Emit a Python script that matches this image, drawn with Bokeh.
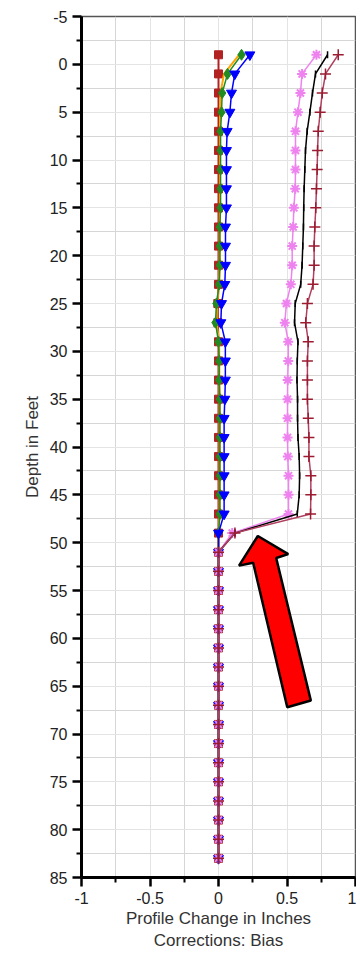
import math
from bokeh.plotting import figure
from bokeh.models import FixedTicker, Range1d
from bokeh.embed import file_html
from bokeh.resources import INLINE

# ---- data ----
depth = [-1, 1, 3, 5, 7, 9, 11, 13, 15, 17, 19, 21, 23, 25, 27, 29, 31, 33, 35, 37, 39,
         41, 43, 45, 47, 49, 51, 53, 55, 57, 59, 61, 63, 65, 67, 69, 71, 73, 75, 77, 79, 81, 83]

red_sq = [0.0, 0.0, 0.0, 0.0, 0.0, 0.0, 0.0, 0.0, 0.0, 0.0, 0.0, 0.0, 0.0, -0.005, -0.005, 0.0, 0.0,
          0.0, 0.0, 0.0, 0.0, 0.0, 0.0, 0.0, 0.0, 0.0, 0.0, 0.0, 0.0, 0.0, 0.0, 0.0, 0.0, 0.0,
          0.0, 0.0, 0.0, 0.0, 0.0, 0.0, 0.0, 0.0, 0.0]
orange = [0.15, 0.04, 0.015, 0.012, 0.01, 0.01, 0.01, 0.01, 0.01, 0.008, 0.008, 0.008, 0.004, -0.01,
          -0.014, 0.004, 0.006, 0.006, 0.008, 0.008, 0.008, 0.008, 0.008, 0.008, 0.008, 0.0, 0.0,
          0.0, 0.0, 0.0, 0.0, 0.0, 0.0, 0.0, 0.0, 0.0, 0.0, 0.0, 0.0, 0.0, 0.0, 0.0, 0.0]
green = [0.168, 0.066, 0.027, 0.022, 0.015, 0.015, 0.015, 0.015, 0.015, 0.01, 0.01, 0.01, 0.005,
         -0.015, -0.022, 0.0, 0.005, 0.005, 0.01, 0.01, 0.01, 0.01, 0.01, 0.01, 0.01, 0.0, 0.0,
         0.0, 0.0, 0.0, 0.0, 0.0, 0.0, 0.0, 0.0, 0.0, 0.0, 0.0, 0.0, 0.0, 0.0, 0.0, 0.0]
blue = [0.229, 0.119, 0.095, 0.083, 0.063, 0.058, 0.058, 0.058, 0.058, 0.051, 0.051, 0.051, 0.046,
        0.022, 0.017, 0.05, 0.05, 0.05, 0.046, 0.041, 0.041, 0.041, 0.041, 0.041, 0.041, 0.0, 0.0,
        0.0, 0.0, 0.0, 0.0, 0.0, 0.0, 0.0, 0.0, 0.0, 0.0, 0.0, 0.0, 0.0, 0.0, 0.0, 0.0]
pink = [0.715, 0.61, 0.598, 0.58, 0.562, 0.562, 0.562, 0.56, 0.55, 0.545, 0.538, 0.538, 0.528,
        0.496, 0.484, 0.509, 0.509, 0.505, 0.504, 0.504, 0.504, 0.506, 0.511, 0.511, 0.511, 0.1,
        0.0, 0.0, 0.0, 0.0, 0.0, 0.0, 0.0, 0.0, 0.0, 0.0, 0.0, 0.0, 0.0, 0.0, 0.0, 0.0, 0.0]
black = [0.796, 0.708, 0.686, 0.667, 0.647, 0.635, 0.63, 0.625, 0.622, 0.62, 0.615, 0.61, 0.6,
         0.56, 0.555, 0.58, 0.575, 0.573, 0.577, 0.577, 0.58, 0.589, 0.592, 0.589, 0.575, 0.12,
         0.0, 0.0, 0.0, 0.0, 0.0, 0.0, 0.0, 0.0, 0.0, 0.0, 0.0, 0.0, 0.0, 0.0, 0.0, 0.0, 0.0]
crimson = [0.874, 0.781, 0.757, 0.742, 0.728, 0.723, 0.72, 0.715, 0.71, 0.703, 0.698, 0.698, 0.69,
           0.649, 0.637, 0.655, 0.649, 0.649, 0.649, 0.655, 0.66, 0.66, 0.674, 0.674, 0.672, 0.12,
           0.0, 0.0, 0.0, 0.0, 0.0, 0.0, 0.0, 0.0, 0.0, 0.0, 0.0, 0.0, 0.0, 0.0, 0.0, 0.0, 0.0]

x_ticks = [-1, -0.5, 0, 0.5, 1]
x_minor = [-0.75, -0.25, 0.25, 0.75]
y_ticks = [-5, 0, 5, 10, 15, 20, 25, 30, 35, 40, 45, 50, 55, 60, 65, 70, 75, 80, 85]
y_minor = [-2.5, 2.5, 7.5, 12.5, 17.5, 22.5, 27.5, 32.5, 37.5, 42.5, 47.5, 52.5, 57.5, 62.5,
           67.5, 72.5, 77.5, 82.5]

# annotation arrow (data coordinates)
arrow_x = [0.287, 0.509, 0.421, 0.674, 0.502, 0.253, 0.150]
arrow_y = [49.3, 51.2, 51.6, 66.5, 67.2, 52.1, 52.4]

FONT = "Liberation Sans"

p = figure(width=356, height=953, output_backend="svg", toolbar_location=None,
           x_range=Range1d(-1, 1), y_range=Range1d(85, -5),
           min_border_left=81, min_border_right=1, min_border_top=16, min_border_bottom=73)
p.background_fill_color = "white"
p.border_fill_color = "white"
p.outline_line_color = "#555555"
p.outline_line_width = 1.5

p.xaxis.ticker = FixedTicker(ticks=x_ticks, minor_ticks=x_minor)
p.yaxis.ticker = FixedTicker(ticks=y_ticks, minor_ticks=y_minor)
p.xaxis.major_label_overrides = {t: ("%g" % t) for t in x_ticks}
p.yaxis.major_label_overrides = {t: ("%g" % t) for t in y_ticks}

for ax in (p.xaxis, p.yaxis):
    ax.axis_line_width = 3
    ax.axis_line_color = "black"
    ax.major_tick_line_width = 2.5
    ax.minor_tick_line_width = 2
    ax.major_tick_line_color = "black"
    ax.minor_tick_line_color = "black"
    ax.major_tick_in = 0
    ax.major_tick_out = 9
    ax.minor_tick_in = 0
    ax.minor_tick_out = 5
    ax.major_label_text_font = FONT
    ax.major_label_text_font_size = "16px"
    ax.major_label_text_color = "#222222"
    ax.axis_label_text_font = FONT
    ax.axis_label_text_font_size = "17px"
    ax.axis_label_text_font_style = "normal"
    ax.axis_label_text_color = "#333333"

p.xaxis.major_label_standoff = 5
p.xaxis.axis_label = "Profile Change in Inches\nCorrections: Bias"
p.xaxis.axis_label_standoff = 2
p.yaxis.major_label_standoff = 5
p.yaxis.axis_label = "Depth in Feet"
p.yaxis.axis_label_standoff = 5

for g in (p.xgrid, p.ygrid):
    g.grid_line_color = "#e4e4e4"
    g.grid_line_width = 1
    g.minor_grid_line_color = "#d6d6d6"
    g.minor_grid_line_width = 1

# series
p.line(red_sq, depth, line_color="#B22222", line_width=2)
p.scatter(red_sq, depth, marker="square", size=8, fill_color="#B22222", line_color="#B22222")

p.line(orange, depth, line_color="#FFA500", line_width=2)

p.line(green, depth, line_color="#228B22", line_width=1.5)
p.scatter(green, depth, marker="diamond", size=11, fill_color="#228B22", line_color="#228B22")

p.line(blue, depth, line_color="#0000FF", line_width=1.5)
p.scatter(blue, depth, marker="inverted_triangle", size=10, fill_color="#0000FF", line_color="#0000FF")

p.line(pink, depth, line_color="#EE82EE", line_width=1.5)
p.scatter(pink, depth, marker="asterisk", size=10, line_color="#EE82EE", line_width=2)

p.line(black, depth, line_color="black", line_width=1.5)
p.scatter(black, depth, marker="dash", angle=math.pi / 2, size=7, line_color="black", line_width=1.5)

p.line(crimson, depth, line_color="#B04060", line_width=1.5)
p.scatter(crimson, depth, marker="cross", size=11, line_color="#9B1B30", line_width=1.5)

p.patch(arrow_x, arrow_y, fill_color="#FF0000", line_color="black", line_width=2.5)

open("out.html", "w").write(file_html(p, INLINE))
